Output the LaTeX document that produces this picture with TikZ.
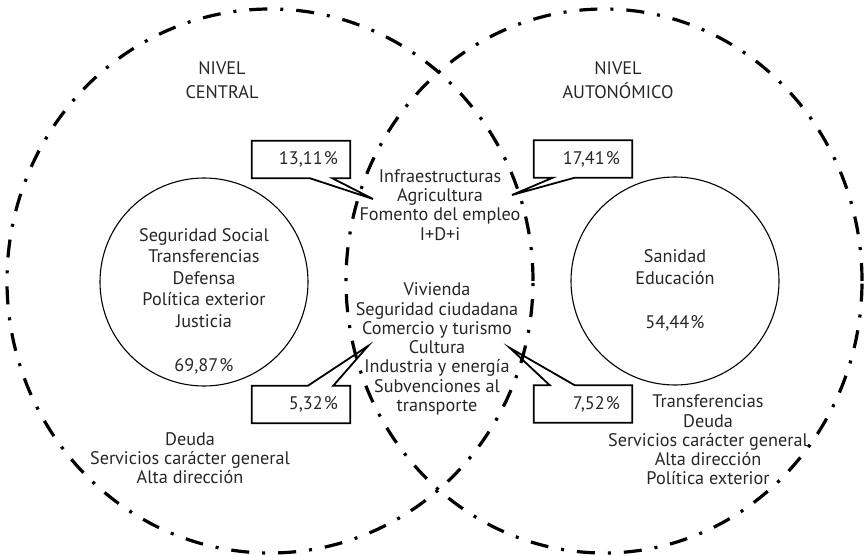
\documentclass[tikz,border=0pt]{standalone}
\usepackage{fontspec}
\setmainfont{PT Sans}
\usetikzlibrary{shapes.geometric}
\begin{document}
\begin{tikzpicture}[x=1pt,y=-1pt,
  big/.style={ellipse, draw, line width=3.2pt,
    dash pattern=on 18pt off 13pt on 3pt off 13pt,
    minimum height=544pt, inner sep=0pt},
  inr/.style={circle, draw, line width=1.1pt, minimum size=208pt, inner sep=0pt},
  txt/.style={align=center, inner sep=0pt, text=black!85,
    font=\fontsize{18.2}{19.3}\selectfont},
  pct/.style={minimum height=37pt, text width=74pt, align=right,
    inner xsep=12pt, inner ysep=0pt, text=black!85,
    font=\fontsize{18.2}{19.3}\selectfont},
  callout/.style={draw, line width=1.8pt, line join=miter}
]
\useasboundingbox (0,0) rectangle (865,556);

% large dash-dot ellipses
\node[big, minimum width=526pt] (L) at (270,281) {};
\node[big, minimum width=516pt] (R) at (604,281) {};

% inner circles
\node[inr] (lc) at (204,282) {};
\node[inr] (rc) at (675,281) {};

% headings
\node[txt, font=\fontsize{18.2}{23.6}\selectfont] (nc) at (222,80) {NIVEL\\CENTRAL};
\node[txt, font=\fontsize{18.2}{23.6}\selectfont] (na) at (618,80) {NIVEL\\AUTONÓMICO};

% circle texts
\node[txt, font=\fontsize{18.2}{21.5}\selectfont] (lct) at (lc.center) [yshift=-19pt]
  {Seguridad Social\\Transferencias\\Defensa\\Política exterior\\Justicia\\[22.5pt]69,87\kern1.2pt\%};
\node[txt, font=\fontsize{18.2}{22}\selectfont] (rct) at (rc.center) [yshift=-9pt]
  {Sanidad\\Educación\\[22pt]54,44\kern1.2pt\%};

% shared texts
\node[txt] (ctop) at (440,205) {Infraestructuras\\Agricultura\\Fomento del empleo\\I+D+i};
\node[txt] (cbot) at (437,349) {Vivienda\\Seguridad ciudadana\\Comercio y turismo\\Cultura\\Industria y energía\\Subvenciones al\\transporte};

% bottom texts
\node[txt] (lb) at (190,458) {Deuda\\Servicios carácter general\\Alta dirección};
\node[txt] (rb) at (708,440) {Transferencias\\Deuda\\Servicios carácter general\\Alta dirección\\Política exterior};

% percentage callouts
\node[pct] (p1) at (301,159.5) {13,11\kern1.2pt\%};
\node[pct] (p2) at (583,159) {17,41\kern1.2pt\%};
\node[pct] (p3) at (301,404.5) {5,32\kern1.2pt\%};
\node[pct] (p4) at (583,404) {7,52\kern1.2pt\%};

\coordinate (t1) at (373,199);
\coordinate (t2) at (512,195);
\coordinate (t3) at (368,346);
\coordinate (t4) at (510,348);

\draw[callout] (p1.south west) -- (p1.north west) -- (p1.north east) -- (p1.south east)
  -- ([xshift=-18pt]p1.south east) -- (t1) -- ([xshift=58pt]p1.south west) -- cycle;
\draw[callout] (p2.south east) -- (p2.north east) -- (p2.north west) -- (p2.south west)
  -- ([xshift=19pt]p2.south west) -- (t2) -- ([xshift=41pt]p2.south west) -- cycle;
\draw[callout] (p3.north west) -- (p3.south west) -- (p3.south east) -- (p3.north east)
  -- ([xshift=-17pt]p3.north east) -- (t3) -- ([xshift=56pt]p3.north west) -- cycle;
\draw[callout] (p4.north east) -- (p4.south east) -- (p4.south west) -- (p4.north west)
  -- ([xshift=16pt]p4.north west) -- (t4) -- ([xshift=41pt]p4.north west) -- cycle;
\end{tikzpicture}
\end{document}
